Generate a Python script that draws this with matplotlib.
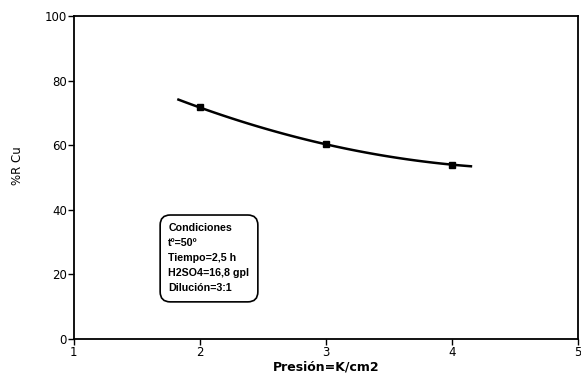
import numpy as np
import matplotlib
matplotlib.use("Agg")
import matplotlib.pyplot as plt
from matplotlib.patches import FancyBboxPatch

plt.rcParams['font.family'] = ['DejaVu Sans']

# datos
presion = [2, 3, 4]
rec_cu = [71.7, 60.3, 54.0]
curve_x = [1.83, 4.15]          # rango de la curva de ajuste
cond_lines = ['Condiciones', 'tº=50º', 'Tiempo=2,5 h', 'H2SO4=16,8 gpl', 'Dilución=3:1']
xticks = [1, 2, 3, 4, 5]
yticks = [0, 20, 40, 60, 80, 100]

fig = plt.figure(figsize=(5.81, 3.75), dpi=100)
ax = fig.add_axes([0.127, 0.096, 0.868, 0.861])

# ajuste polinomico de 2do grado
coef = np.polyfit(presion, rec_cu, 2)
xs = np.linspace(curve_x[0], curve_x[1], 100)
ax.plot(xs, np.polyval(coef, xs), color='black', lw=1.8)
ax.plot(presion, rec_cu, 's', color='black', ms=5)

ax.set_xlim(1, 5)
ax.set_ylim(0, 100)
ax.set_xticks(xticks)
ax.set_yticks(yticks)
ax.tick_params(direction='out', length=4, width=1, labelsize=8.5, pad=1)
for s in ax.spines.values():
    s.set_linewidth(1.3)

ax.set_xlabel('Presión=K/cm2', fontsize=9, fontweight='bold', labelpad=1)
ax.set_ylabel('%R Cu', fontsize=8.5)
ax.yaxis.set_label_coords(-0.098, 0.536)

# cuadro de condiciones
box = FancyBboxPatch((1.685, 11.5), 0.775, 26.9, boxstyle='round,pad=0,rounding_size=0.08',
                     mutation_aspect=39, fc='white', ec='black', lw=1.2)
ax.add_patch(box)
for i, t in enumerate(cond_lines):
    ax.text(1.75, 34.4 - i * 4.64, t, fontsize=7.7, va='center', ha='left',
            family='Liberation Sans', fontweight='bold')

fig.savefig('out.png', dpi=100)
